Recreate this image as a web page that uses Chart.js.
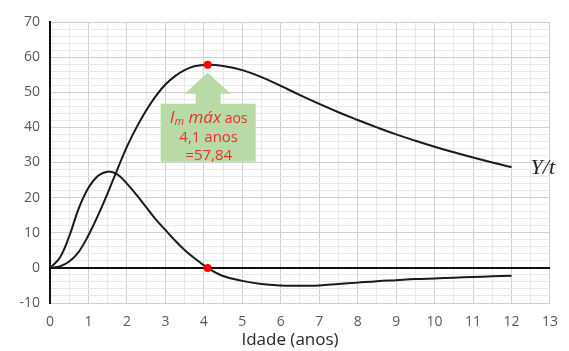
<!DOCTYPE html>
<html>
<head>
<meta charset="utf-8">
<script src="https://cdn.jsdelivr.net/npm/chart.js@4/dist/chart.umd.min.js"></script>
<style>
  html, body { margin: 0; padding: 0; background: #ffffff; }
  #wrap { width: 569px; height: 351px; }
</style>
</head>
<body>
<div id="wrap"><canvas id="c" width="569" height="351"></canvas></div>
<script>
// Age in years
const ages = [0, 0.25, 0.5, 0.75, 1, 1.25, 1.5, 1.75, 2, 2.25, 2.5, 2.75, 3, 3.25, 3.5, 3.75, 4.1,
              4.5, 5, 5.5, 6, 6.5, 7, 7.5, 8, 8.5, 9, 9.5, 10, 10.5, 11, 11.5, 12];
// Mean annual increment Y/t
const meanIncrement = [0, 0.4, 1.8, 4.6, 9.3, 15, 21.3, 28, 34.5, 40, 44.8, 48.9, 52.2, 54.6, 56.3, 57.4, 57.84,
                       57.5, 56.3, 54.3, 51.8, 49.2, 46.7, 44.3, 42.1, 40, 38, 36.2, 34.5, 32.9, 31.4, 30, 28.7];
// Difference between current and mean increment
const incrementDiff = [0, 2.8, 9, 17, 22.8, 26.2, 27.4, 26.6, 24, 20.8, 17.3, 13.8, 10.8, 7.8, 5.1, 2.8, 0,
                       -2.3, -3.7, -4.6, -5.0, -5.1, -5.0, -4.6, -4.2, -3.8, -3.5, -3.2, -3.0, -2.8, -2.6, -2.4, -2.25];
// Reference line at zero
const zeroLineX = [0, 13];
const zeroLineY = [0, 0];
// Highlighted maximum
const peakAge = 4.1;
const peakValue = 57.84;
const calloutLines = ['máx', 'aos', '4,1 anos', '=57,84'];
const seriesLabel = 'Y/t';
const xTitle = 'Idade (anos)';

const toPoints = (xs, ys) => xs.map((x, i) => ({ x, y: ys[i] }));

const calloutPlugin = {
  id: 'callout',
  afterDatasetsDraw(chart) {
    const { ctx, scales: { x, y } } = chart;
    const px = x.getPixelForValue(peakAge);
    const py = y.getPixelForValue(peakValue);
    ctx.save();
    // arrow + box
    const tip = py + 8;
    const headBase = tip + 21;
    const shaftBottom = headBase + 10;
    const boxL = px - 47, boxR = px + 48, boxB = shaftBottom + 58;
    ctx.fillStyle = '#b9d9a7';
    ctx.beginPath();
    ctx.moveTo(px, tip);
    ctx.lineTo(px + 23, headBase);
    ctx.lineTo(px + 13, headBase);
    ctx.lineTo(px + 13, shaftBottom);
    ctx.lineTo(boxR, shaftBottom);
    ctx.lineTo(boxR, boxB);
    ctx.lineTo(boxL, boxB);
    ctx.lineTo(boxL, shaftBottom);
    ctx.lineTo(px - 12, shaftBottom);
    ctx.lineTo(px - 12, headBase);
    ctx.lineTo(px - 23, headBase);
    ctx.closePath();
    ctx.fill();

    // text
    ctx.fillStyle = '#e0352b';
    ctx.textBaseline = 'alphabetic';
    const l1y = shaftBottom + 19;
    const fI = 'italic 17px "Open Sans"';
    const fSub = 'italic 11px "Open Sans"';
    const fMax = 'italic 17px "Open Sans"';
    const fAos = '14px "Open Sans"';
    ctx.font = fI; const wI = ctx.measureText('I').width;
    ctx.font = fSub; const wSub = ctx.measureText('m').width;
    ctx.font = fMax; const wMax = ctx.measureText(' ' + calloutLines[0]).width;
    ctx.font = fAos; const wAos = ctx.measureText(' ' + calloutLines[1]).width;
    let cx = px - (wI + wSub + wMax + wAos) / 2 + 1;
    ctx.textAlign = 'left';
    ctx.font = fI; ctx.fillText('I', cx, l1y); cx += wI;
    ctx.font = fSub; ctx.fillText('m', cx, l1y + 2); cx += wSub;
    ctx.font = fMax; ctx.fillText(' ' + calloutLines[0], cx, l1y); cx += wMax;
    ctx.font = fAos; ctx.fillText(' ' + calloutLines[1], cx, l1y);
    ctx.textAlign = 'center';
    ctx.font = '15px "Open Sans"';
    ctx.fillText(calloutLines[2], px + 1, l1y + 19);
    ctx.fillText(calloutLines[3], px + 1, l1y + 37);

    // series label
    const lastX = ages[ages.length - 1];
    const lx = x.getPixelForValue(lastX) + 19;
    const ly = y.getPixelForValue(meanIncrement[meanIncrement.length - 1]);
    ctx.fillStyle = '#222222';
    ctx.font = 'italic 22px "Liberation Serif"';
    ctx.textAlign = 'left';
    ctx.textBaseline = 'middle';
    ctx.fillText(seriesLabel, lx, ly + 1);

    // axis title
    ctx.fillStyle = '#262626';
    ctx.font = '17px "Open Sans"';
    ctx.textAlign = 'center';
    ctx.textBaseline = 'middle';
    ctx.fillText(xTitle, (chart.chartArea.left + chart.chartArea.right) / 2 - 10, 340);
    ctx.restore();
  }
};

new Chart(document.getElementById('c'), {
  type: 'scatter',
  data: {
    datasets: [
      {
        data: toPoints(zeroLineX, zeroLineY),
        showLine: true, borderColor: '#111111', borderWidth: 2, pointRadius: 0, order: 3
      },
      {
        data: toPoints(ages, meanIncrement),
        showLine: true, borderColor: '#1a1a1a', borderWidth: 2, pointRadius: 0,
        tension: 0.4, order: 2
      },
      {
        data: toPoints(ages, incrementDiff),
        showLine: true, borderColor: '#1a1a1a', borderWidth: 2, pointRadius: 0,
        tension: 0.4, order: 2
      },
      {
        data: [{ x: peakAge, y: peakValue }, { x: peakAge, y: 0 }],
        showLine: false, pointRadius: 4, pointBackgroundColor: '#ff0000',
        pointBorderColor: '#ff0000', pointBorderWidth: 0, order: 1
      }
    ]
  },
  options: {
    responsive: false,
    animation: false,
    devicePixelRatio: 1,
    layout: { padding: { top: 22, right: 14, left: 0, bottom: 0 } },
    plugins: { legend: { display: false }, tooltip: { enabled: false } },
    scales: {
      x: {
        type: 'linear', min: 0, max: 13,
        afterFit: (s) => { s.height = 48; },
        ticks: {
          stepSize: 0.5, autoSkip: false, maxRotation: 0, padding: 11,
          color: '#595959', font: { family: '"Open Sans"', size: 14 },
          callback: (v) => (Number.isInteger(v) ? String(v) : '')
        },
        grid: {
          drawTicks: false,
          color: (c) => (c.tick && Number.isInteger(c.tick.value) ? '#d0d0d0' : '#e8e8e8'),
          lineWidth: 1
        },
        border: { display: true, color: '#d0d0d0', width: 1 }
      },
      y: {
        type: 'linear', min: -10, max: 70,
        afterFit: (s) => { s.width = 50; },
        ticks: {
          stepSize: 2, maxTicksLimit: 100, autoSkip: false, padding: 10,
          color: '#595959', font: { family: '"Open Sans"', size: 14 },
          callback: (v) => (v % 10 === 0 ? String(v) : '')
        },
        grid: {
          drawTicks: false,
          color: (c) => (c.tick && c.tick.value % 10 === 0 ? '#d0d0d0' : '#e8e8e8'),
          lineWidth: 1
        },
        border: { display: true, color: '#111111', width: 2 }
      }
    }
  },
  plugins: [calloutPlugin]
});
</script>
</body>
</html>
